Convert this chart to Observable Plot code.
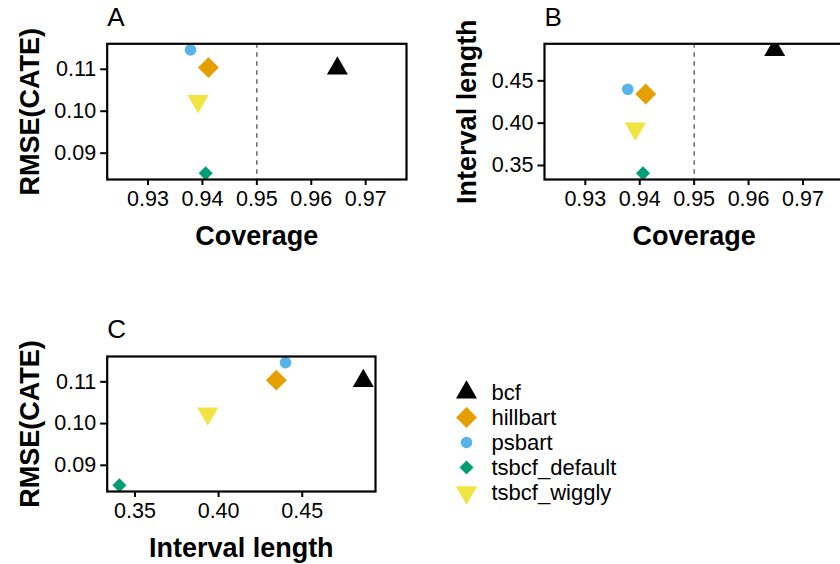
<!DOCTYPE html>
<html>
<head>
<meta charset="utf-8">
<script src="https://cdn.jsdelivr.net/npm/d3@7"></script>
<script src="https://cdn.jsdelivr.net/npm/@observablehq/plot@0.6"></script>
<style>
  html, body { margin: 0; padding: 0; background: #fff; }
  #fig { position: relative; width: 840px; height: 564px; overflow: hidden; background: #fff; }
  #fig > div { position: absolute; }
  #fig svg { max-width: none !important; }
</style>
</head>
<body>
<div id="fig"></div>
<script>
// Simulation summary per method
const methods = ["bcf", "hillbart", "psbart", "tsbcf_default", "tsbcf_wiggly"];
const coverage = [0.9648, 0.9411, 0.9378, 0.9406, 0.9392];
const rmse = [0.1102, 0.1104, 0.1146, 0.0852, 0.1024];
const intervalLength = [0.4865, 0.4345, 0.4400, 0.3407, 0.3935];

// Axis settings
const nominalCoverage = 0.95;
const coverageLimits = [0.925, 0.975];
const coverageTicks = [0.93, 0.94, 0.95, 0.96, 0.97];
const rmseTicks = [0.09, 0.10, 0.11];
const intervalTicks = [0.35, 0.40, 0.45];

// Point styling per method
const colors = {bcf: "#000000", hillbart: "#E69F00", psbart: "#56B4E9", tsbcf_default: "#009E73", tsbcf_wiggly: "#F0E442"};
const triangleDown = {
  draw(context, size) {
    const y = Math.sqrt(size / (Math.sqrt(3) * 3));
    context.moveTo(0, 2 * y);
    context.lineTo(-Math.sqrt(3) * y, -y);
    context.lineTo(Math.sqrt(3) * y, -y);
    context.closePath();
  }
};
const symbols = {bcf: "triangle", hillbart: "diamond2", psbart: "circle", tsbcf_default: "diamond2", tsbcf_wiggly: triangleDown};
const radii = {bcf: 7.8, hillbart: 9.4, psbart: 5.8, tsbcf_default: 6.3, tsbcf_wiggly: 7.9};

const rows = methods.map((method, i) => ({method, coverage: coverage[i], rmse: rmse[i], interval: intervalLength[i]}));

// ggplot-style 5% expansion of a range
function expand([lo, hi], f = 0.05) {
  const d = (hi - lo) * f;
  return [lo - d, hi + d];
}

const FONT = "'Liberation Sans', Arial, Helvetica, sans-serif";
const fmt = d3.format(".2f");

function panel({x, y, xDomain, yDomain, xTicks, yTicks, xLabel, yLabel, tag, vline,
                width, height, marginTop, marginRight, marginBottom, marginLeft}) {
  const dots = methods.map(m => Plot.dot(rows.filter(r => r.method === m), {
    x, y, symbol: symbols[m], fill: colors[m], r: radii[m], clip: true
  }));
  return Plot.plot({
    width, height, marginTop, marginRight, marginBottom, marginLeft,
    style: {fontFamily: FONT, fontSize: "21.5px", color: "#000", background: "transparent", overflow: "visible"},
    x: {domain: xDomain},
    y: {domain: yDomain},
    marks: [
      Plot.axisX({ticks: xTicks, tickFormat: fmt, tickSize: 6, tickPadding: 5.5, strokeWidth: 2, label: null}),
      Plot.axisY({ticks: yTicks, tickFormat: fmt, tickSize: 6.5, tickPadding: 4.5, strokeWidth: 2, label: null}),
      vline != null ? Plot.ruleX([vline], {stroke: "#333", strokeWidth: 1.1, strokeDasharray: "4.5,4.5"}) : null,
      ...dots,
      Plot.frame({stroke: "#000", strokeWidth: 2.2}),
      Plot.text([xLabel], {frameAnchor: "bottom", dy: 65.3, lineAnchor: "bottom", fontSize: 27, fontWeight: "bold"}),
      Plot.text([yLabel], {frameAnchor: "left", dx: -68.7, rotate: -90, textAnchor: "middle", lineAnchor: "bottom", fontSize: 27, fontWeight: "bold"}),
      Plot.text([tag], {frameAnchor: "top-left", dy: -18.3, textAnchor: "start", lineAnchor: "bottom", fontSize: 26})
    ]
  });
}

const coverageDomain = expand(coverageLimits);
const rmseDomain = expand(d3.extent(rmse));
const intervalDomain = expand(d3.extent(intervalLength));

const fig = document.getElementById("fig");
function place(node, left, top) {
  const wrap = document.createElement("div");
  wrap.style.left = left + "px";
  wrap.style.top = top + "px";
  wrap.appendChild(node);
  fig.appendChild(wrap);
}

// A: coverage vs RMSE
place(panel({
  x: "coverage", y: "rmse", xDomain: coverageDomain, yDomain: rmseDomain,
  xTicks: coverageTicks, yTicks: rmseTicks, xLabel: "Coverage", yLabel: "RMSE(CATE)", tag: "A",
  vline: nominalCoverage,
  width: 420, height: 260, marginTop: 43.3, marginRight: 14, marginBottom: 81, marginLeft: 106.7
}), 0, 0);

// B: coverage vs interval length (panel runs past the right edge)
place(panel({
  x: "coverage", y: "interval", xDomain: coverageDomain, yDomain: intervalDomain,
  xTicks: coverageTicks, yTicks: intervalTicks, xLabel: "Coverage", yLabel: "Interval length", tag: "B",
  vline: nominalCoverage,
  width: 440, height: 260, marginTop: 43.3, marginRight: 16.7, marginBottom: 81, marginLeft: 124
}), 420, 0);

// C: interval length vs RMSE
place(panel({
  x: "interval", y: "rmse", xDomain: intervalDomain, yDomain: rmseDomain,
  xTicks: intervalTicks, yTicks: rmseTicks, xLabel: "Interval length", yLabel: "RMSE(CATE)", tag: "C",
  width: 420, height: 264, marginTop: 56, marginRight: 45, marginBottom: 73, marginLeft: 106.7
}), 0, 300);

// Legend
const legend = Plot.plot({
  width: 300, height: 160, margin: 0,
  style: {fontFamily: FONT, fontSize: "22px", color: "#000", background: "transparent", overflow: "visible"},
  x: {type: "point", domain: ["key", "label"], range: [45.7, 71], padding: 0, axis: null},
  y: {type: "point", domain: methods, range: [32.3, 132.7], padding: 0, axis: null},
  marks: [
    ...methods.map(m => Plot.dot([m], {x: () => "key", y: d => d, symbol: symbols[m], fill: colors[m], r: radii[m]})),
    Plot.text(methods, {x: () => "label", y: d => d, text: d => d, textAnchor: "start", fontSize: 22})
  ]
});
place(legend, 420, 360);
</script>
</body>
</html>
